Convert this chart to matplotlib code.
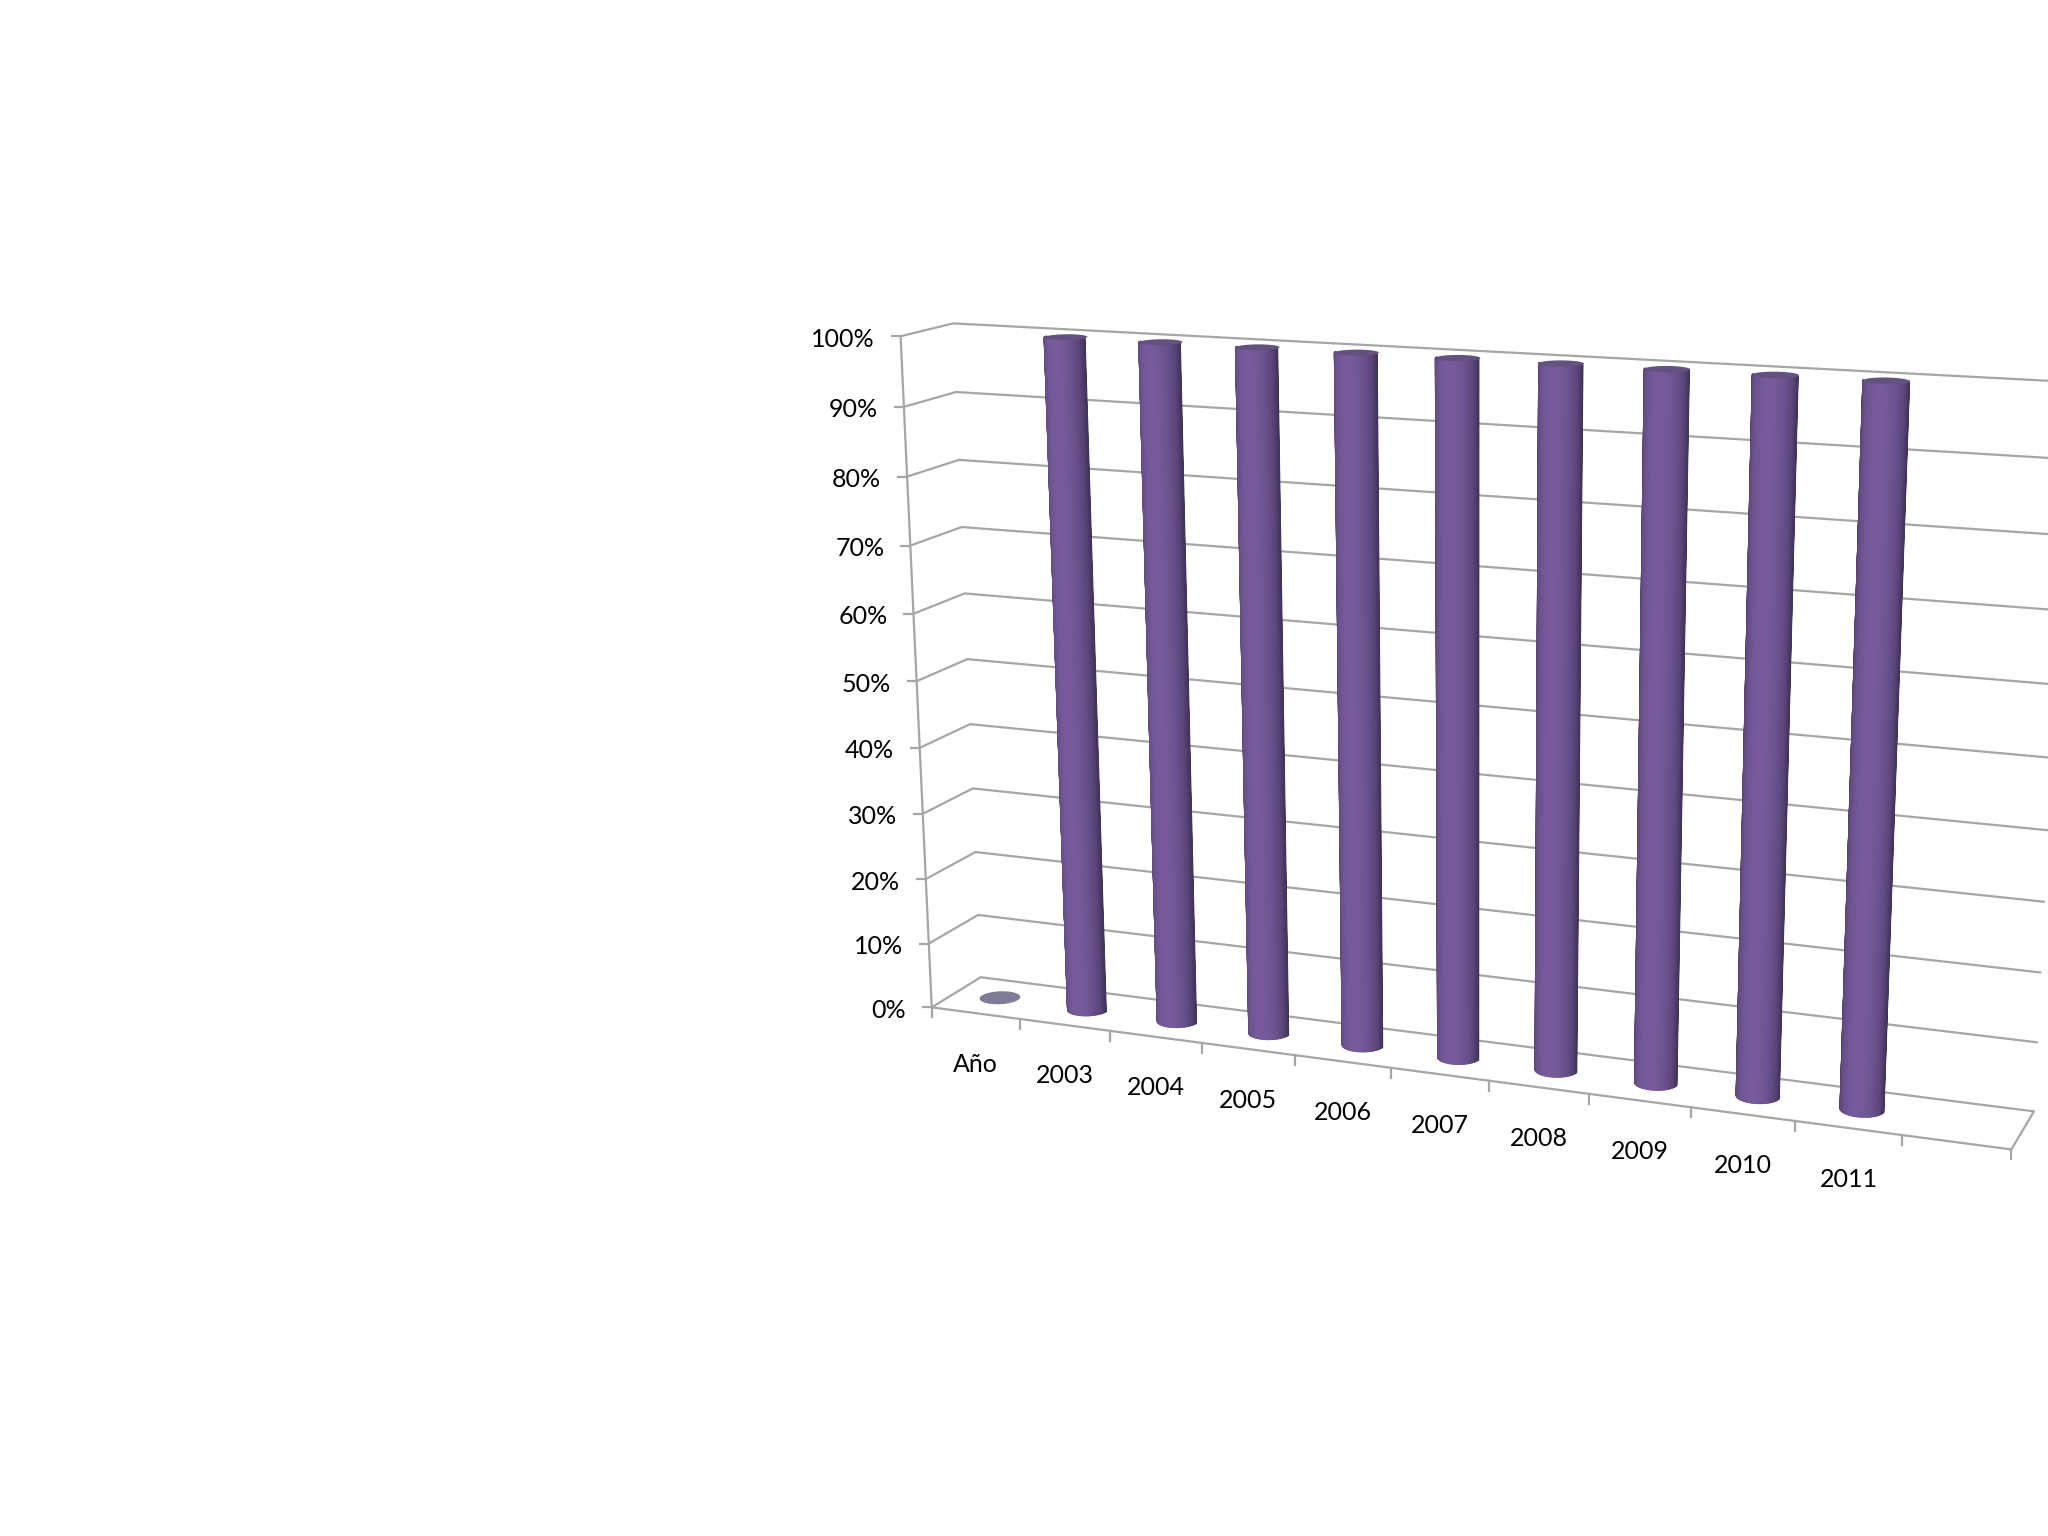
import numpy as np
import matplotlib
matplotlib.use("Agg")
import matplotlib.pyplot as plt
from matplotlib.collections import PolyCollection
from matplotlib.colors import to_rgb

categories = ['Año', '2003', '2004', '2005', '2006', '2007', '2008', '2009', '2010', '2011']
values = [0, 100, 100, 100, 100, 100, 100, 100, 100, 100]
y_ticks = [0, 10, 20, 30, 40, 50, 60, 70, 80, 90, 100]
n_slots = 11

# camera calibration: (slot, value, depth) -> image pixel
calib = [
    (0, 0, 0, 932, 1008), (1, 0, 0, 1020, 1019), (2, 0, 0, 1110, 1032), (3, 0, 0, 1202, 1043),
    (4, 0, 0, 1295, 1055), (8, 0, 0, 1691, 1108), (9, 0, 0, 1795, 1121), (10, 0, 0, 1902, 1134),
    (11, 0, 0, 2012, 1149),
    (0, 100, 0, 900, 336), (0, 90, 0, 903, 407), (0, 80, 0, 907, 477), (0, 70, 0, 911, 546),
    (0, 50, 0, 916, 680), (0, 10, 0, 930, 943),
    (0, 100, 1, 953, 323), (0, 90, 1, 957, 392), (0, 80, 1, 959, 460), (0, 70, 1, 962, 527),
    (0, 50, 1, 968, 660), (0, 10, 1, 977, 914), (0, 0, 1, 980, 977),
    (11, 0, 1, 2034, 1112), (11, 100, 1, 2069, 382),
]


def fit_camera(rows):
    A, b = [], []
    for X, Y, Z, u, v in rows:
        p = [X, Y / 10, Z, 1]
        A.append(p + [0, 0, 0, 0] + [-u * c for c in p[:3]])
        A.append([0, 0, 0, 0] + p + [-v * c for c in p[:3]])
        b += [u, v]
    m = np.linalg.lstsq(np.array(A, float), np.array(b, float), rcond=None)[0]
    return np.append(m, 1).reshape(3, 4)


P = fit_camera(calib)


def project(X, Y, Z):
    X, Y, Z = np.broadcast_arrays(np.asarray(X, float), np.asarray(Y, float), np.asarray(Z, float))
    q = P @ np.vstack([X.ravel(), Y.ravel() / 10, Z.ravel(), np.ones(X.size)])
    return q[0] / q[2], q[1] / q[2]


fig = plt.figure(figsize=(20.48, 15.36), dpi=100, facecolor='white')
ax = fig.add_axes([0, 0, 1, 1])
ax.set_xlim(0, 2048)
ax.set_ylim(1536, 0)
ax.axis('off')

LINE = '#a6a6a6'
LW = 1.6
TEXT = '#000000'


def seg(X, Y, Z, **kw):
    ax.plot(*project(X, Y, Z), color=LINE, lw=LW, solid_capstyle='round', solid_joinstyle='round', zorder=1, **kw)


for v in y_ticks:
    seg([0, 0, n_slots], [v, v, v], [0, 1, 1])
    x0, y0 = project(0, v, 0)
    ax.plot([x0[0] - 9, x0[0]], [y0[0], y0[0]], color=LINE, lw=LW, zorder=1)
    ax.text(x0[0] - 26, y0[0] + 3, f'{v}%', ha='right', va='center', fontsize=18,
            family='Lato', color=TEXT)

seg([0, 0], [0, 100], [0, 0])
seg([0, n_slots], [0, 0], [0, 0])
seg([n_slots, n_slots], [0, 0], [0, 1])
for i in range(n_slots + 1):
    x0, y0 = project(i, 0, 0)
    ax.plot([x0[0], x0[0]], [y0[0], y0[0] + 10], color=LINE, lw=LW, zorder=1)

EDGE = np.array(to_rgb('#3f3358'))
MID = np.array(to_rgb('#775a9c'))
CAP = '#62527f'
FLAT = '#7f7c97'
RX, RZ = 0.205, 0.2
t = np.linspace(np.pi, 2 * np.pi, 61)

for i, (name, val) in enumerate(zip(categories, values)):
    cx = i + 0.5
    if val > 0:
        polys, cols = [], []
        for a, b in zip(t[:-1], t[1:]):
            ang = np.array([a, b, b, a])
            xs = cx + RX * np.cos(ang)
            zs = 0.5 + RZ * np.sin(ang)
            ys = np.array([0, 0, val, val])
            px, py = project(xs, ys, zs)
            polys.append(np.column_stack([px, py]))
            s = abs(np.sin((a + b) / 2)) ** 0.85
            cols.append(EDGE + (MID - EDGE) * s)
        ax.add_collection(PolyCollection(polys, facecolors=cols, edgecolors=cols, linewidths=0.8, zorder=3))
    tt = np.linspace(0, 2 * np.pi, 73)
    px, py = project(cx + RX * np.cos(tt), np.full(73, val), 0.5 + RZ * np.sin(tt))
    ax.fill(px, py, color=CAP if val > 0 else FLAT, lw=0, zorder=4)
    lx, ly = project(cx, 0, 0)
    ax.text(lx[0], ly[0] + 51, name, ha='center', va='center', fontsize=18, family='Lato', color=TEXT)

fig.savefig('out.png', dpi=100, facecolor='white')
